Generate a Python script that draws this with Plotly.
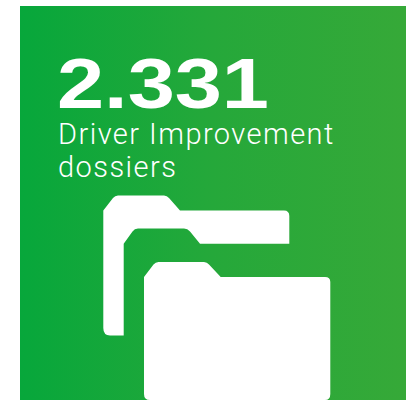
import plotly.graph_objects as go

# Content
headline_value = "2.331"
caption_lines = ["Driver Improvement", "dossiers"]

# Panel colours
gradient_stops = [[0.0, "#07a73b"], [0.5, "#25a83a"], [1.0, "#36a938"]]

panel_x = [20, 406, 406, 20, 20]
panel_y = [6, 6, 400, 400, 6]

back_folder = ("M103.3,210.5 L113,198 Q115,195.4 118,195.4 L164,195.4 Q167,195.4 169,198 L180,210.5 "
               "L284,210.5 Q289.3,210.5 289.3,216 L289.3,243.7 L200,243.7 L190,231.5 Q187.5,228.6 184,228.6 "
               "L138,228.6 Q134.5,228.6 132.5,231.5 L123.7,243.7 L123.7,335.4 L110,335.4 "
               "Q103.3,335.4 103.3,328 Z")
front_folder = ("M144,277 L153.5,264.5 Q155.5,262 158.5,262 L204,262 Q207,262 209,264.5 L220.7,277 "
                "L325,277 Q330.3,277 330.3,282 L330.3,394 Q330.3,400 325,400 L150,400 Q144,400 144,394 Z")

fig = go.Figure()
fig.add_trace(go.Scatter(
    x=panel_x, y=panel_y, mode="none", fill="toself", hoverinfo="skip", showlegend=False,
    fillgradient=dict(type="horizontal", colorscale=gradient_stops),
))

for path in (back_folder, front_folder):
    fig.add_shape(type="path", path=path, xref="x", yref="y",
                  fillcolor="white", line=dict(width=0), layer="above")

fig.add_annotation(x=57, y=123, text=headline_value, xref="x", yref="y",
                   xanchor="left", yanchor="bottom", showarrow=False, borderpad=0, borderwidth=0,
                   font=dict(family="Liberation Sans", size=71, color="white", weight=700))
for text, baseline in zip(caption_lines, (151, 184)):
    fig.add_annotation(x=58, y=baseline, text=text, xref="x", yref="y",
                       xanchor="left", yanchor="bottom", showarrow=False, borderpad=0, borderwidth=0,
                       font=dict(family="Roboto", size=29, color="white", weight=300))

fig.update_layout(
    width=406, height=400, margin=dict(l=0, r=0, t=0, b=0, pad=0),
    paper_bgcolor="white", plot_bgcolor="white", showlegend=False,
    xaxis=dict(range=[0, 406], visible=False, fixedrange=True),
    yaxis=dict(range=[400, 0], visible=False, fixedrange=True),
)

post = """
document.documentElement.style.overflow='hidden';
document.body.style.margin='0';
document.querySelectorAll('.annotation-text').forEach(function(t){
  var left = t.getBBox().x;
  t.style.textAnchor = 'start';
  t.setAttribute('text-anchor','start');
  t.setAttribute('x', left);
  if (t.textContent.indexOf('2.331') === 0) {
    t.setAttribute('textLength','212');
    t.setAttribute('lengthAdjust','spacingAndGlyphs');
  } else {
    t.style.letterSpacing='1.45px';
  }
});
"""
fig.write_html("out.html", post_script=post, config={"displayModeBar": False})
